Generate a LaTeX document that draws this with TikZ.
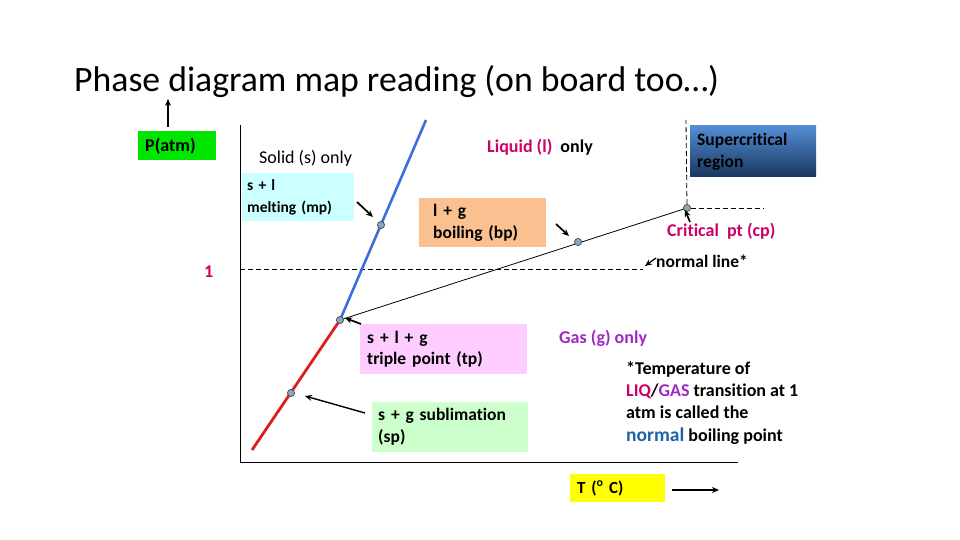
\documentclass[tikz,border=0pt]{standalone}
\usepackage{fontspec}
\setmainfont[Ligatures={NoCommon}]{Carlito}
\usetikzlibrary{arrows.meta}
\definecolor{crim}{RGB}{204,0,102}
\definecolor{gaspurple}{RGB}{160,40,200}
\definecolor{normblue}{RGB}{30,100,170}
\definecolor{pgreen}{RGB}{0,230,0}
\definecolor{cyanbox}{RGB}{204,255,255}
\definecolor{peach}{RGB}{250,192,144}
\definecolor{pinkbox}{RGB}{255,204,255}
\definecolor{greenbox}{RGB}{204,255,204}
\definecolor{yel}{RGB}{255,255,0}
\definecolor{sctop}{RGB}{84,141,212}
\definecolor{scbot}{RGB}{23,54,93}
\definecolor{dotfill}{RGB}{140,165,195}
\definecolor{lineblue}{RGB}{60,110,220}
\definecolor{linered}{RGB}{220,30,30}
\tikzset{
  lbl/.style={inner sep=0pt, font=\bfseries\fontsize{18}{22}\selectfont, anchor=west},
  box/.style={anchor=north west, inner xsep=7pt, inner ysep=0pt, align=left, font=\bfseries\fontsize{17.5}{22}\selectfont},
  noteln/.style={anchor=base west, inner sep=0pt, font=\bfseries\fontsize{18}{22}\selectfont},
  dot/.style={circle, draw=black!70, fill=dotfill, line width=0.6pt, minimum size=7pt, inner sep=0pt},
  pointer/.style={-{Stealth[length=7pt,width=6pt]}, line width=1.7pt},
  dashln/.style={line width=0.8pt, dash pattern=on 5pt off 3pt}
}
\begin{document}
\begin{tikzpicture}[x=1pt,y=-1pt]
\useasboundingbox (0,0) rectangle (960,540);
\fill[white] (0,0) rectangle (960,540);

% title
\node[anchor=base west, inner sep=0pt, font=\fontsize{35.7}{40}\selectfont] (title) at (74,92) {Phase diagram map reading (on board too…)};

% axes
\coordinate (ytop) at (240,125);
\coordinate (origin) at (240,462);
\coordinate (xend) at (738,462);
\draw[line width=0.9pt] (ytop) -- (origin) -- (xend);

% P(atm)
\node[box, fill=pgreen, minimum width=78pt, minimum height=29pt, text width=64pt, font=\bfseries\fontsize{18}{22}\selectfont] (patm) at (138,131) {P(atm)};
\coordinate (pbase) at (168,127);
\coordinate (parrow) at (168,99);
\draw[pointer] (pbase) -- (parrow);

% points
\node[dot] (tp) at (340,320) {};
\node[dot] (mp) at (381,225) {};
\node[dot] (sp) at (291,393) {};
\node[dot] (bp) at (578,242) {};
\node[dot] (cp) at (687,208) {};
\coordinate (btop) at (426,120);
\coordinate (rbot) at (252,450);

% dashed lines
\coordinate (cptop) at (686,120);
\coordinate (cpright) at (763,208);
\coordinate (nlleft) at (240,269);
\coordinate (nlright) at (643,269);
\draw[dashln] (cp) -- (cptop);
\draw[dashln] (cp) -- (cpright);
\draw[dashln] (nlleft) -- (nlright);

% phase lines
\draw[lineblue, line width=2.6pt] (tp.center) -- (btop);
\draw[linered, line width=2.8pt] (tp.center) -- (rbot);
\draw[line width=0.8pt] (tp.center) -- (cp.center);
\node[dot] at (tp) {};
\node[dot] at (mp) {};
\node[dot] at (sp) {};
\node[dot] at (bp) {};
\node[dot] at (cp) {};

% region labels
\node[lbl, font=\fontsize{18}{22}\selectfont] (solid) at (259,158) {Solid (s) only};
\node[lbl] (liquid) at (487,147) {\textcolor{crim}{Liquid (l)}\ \ only};
\node[lbl, text=gaspurple] (gas) at (559,338) {Gas (g) only};
\node[lbl, text=crim] (crit) at (667,231) {Critical\ \ pt (cp)};
\node[lbl, font=\bfseries\fontsize{17.5}{22}\selectfont] (normal) at (656,261) {normal line*};
\node[lbl, text=crim] (one) at (204,272) {1};

% boxes
\node[box, fill=cyanbox, minimum width=112pt, minimum height=48pt, text width=102pt, inner xsep=5pt, font=\bfseries\fontsize{15.5}{22}\selectfont] (mbox) at (242,173) {\rule{0pt}{6pt}s + l\\ melting (mp)};
\node[box, fill=peach, minimum width=127pt, minimum height=49pt, text width=99pt, inner xsep=14pt] (bbox) at (419,198) {\rule{0pt}{8pt}l + g\\ boiling (bp)};
\node[box, fill=pinkbox, minimum width=167pt, minimum height=50pt, text width=153pt, font=\bfseries\fontsize{17.5}{20.5}\selectfont] (tbox) at (360,324) {\rule{0pt}{8pt}s + l + g\\ triple point (tp)};
\node[box, fill=greenbox, minimum width=156pt, minimum height=50pt, text width=144pt, inner xsep=6pt] (sbox) at (372,402) {s + g sublimation\\ (sp)};
\node[box, fill=yel, minimum width=95pt, minimum height=28pt, text width=81pt, font=\bfseries\fontsize{17}{20}\selectfont] (tbox2) at (570,474) {T (\textsuperscript{o} C)};
\shade[top color=sctop, bottom color=scbot] (690,126) rectangle (816,177);
\node[box, minimum width=126pt, minimum height=51pt, text width=112pt, font=\bfseries\fontsize{17.5}{22}\selectfont] (scbox) at (690,126) {Supercritical\\ region};

% note
\node[noteln] (note1) at (626,374) {*Temperature of};
\node[noteln] (note2) at (626,396) {\textcolor{crim}{LIQ}/\textcolor{gaspurple}{GAS} transition at 1};
\node[noteln] (note3) at (626,418) {atm is called the};
\node[noteln] (note4) at (626,441) {{\color{normblue}\fontsize{19.5}{22}\selectfont normal} boiling point};

% pointers
\coordinate (mpa) at (357,202);
\draw[pointer] (mpa) -- (373,217);
\coordinate (bpa) at (556,224);
\draw[pointer] (bpa) -- (569,236);
\coordinate (cpa) at (690,222);
\draw[pointer] (cpa) -- (685,210);
\coordinate (nla) at (656,258);
\draw[pointer, line width=1.3pt] (nla) -- (645,266);
\coordinate (tpa) at (361,324);
\draw[pointer] (tpa) -- (345,318);
\coordinate (spa) at (365,413);
\draw[pointer, line width=1.4pt] (spa) -- (305,396);
\coordinate (ta1) at (672,490);
\coordinate (ta2) at (719,490);
\draw[pointer, line width=1.4pt] (ta1) -- (ta2);
\end{tikzpicture}
\end{document}
